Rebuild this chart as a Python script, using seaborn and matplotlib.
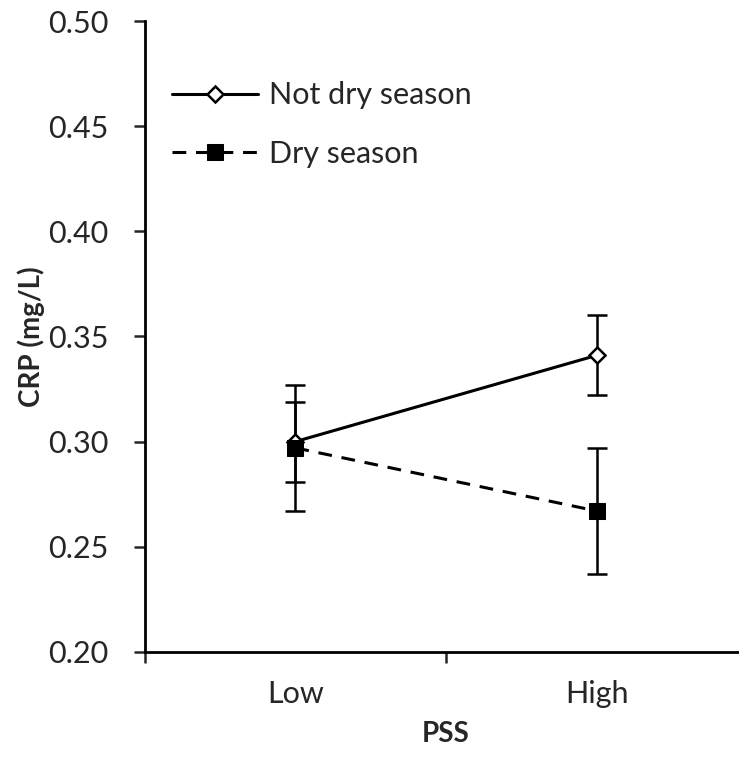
import numpy as np
import pandas as pd
import matplotlib
matplotlib.use("Agg")
import matplotlib.pyplot as plt
import seaborn as sns

# data
pss_levels = ["Low", "High"]
not_dry_mean = [0.300, 0.341]
not_dry_err = [0.019, 0.019]
dry_mean = [0.297, 0.267]
dry_err = [0.030, 0.030]
y_ticks = [0.20, 0.25, 0.30, 0.35, 0.40, 0.45, 0.50]

sns.set_style("ticks")
plt.rcParams["font.family"] = ["Lato", "DejaVu Sans"]

df = pd.DataFrame({
    "PSS": pss_levels * 2,
    "crp": not_dry_mean + dry_mean,
    "err": not_dry_err + dry_err,
    "season": ["Not dry season"] * 2 + ["Dry season"] * 2,
})
# category centres sit between the tick marks, like an Excel line chart
df["pos"] = df["PSS"].map({p: i + 0.5 for i, p in enumerate(pss_levels)})

fig = plt.figure(figsize=(7.39, 7.57), dpi=100)
ax = fig.add_axes([0.196, 0.139, 0.815, 0.833])

# error bars first so markers sit on top
for season in ["Not dry season", "Dry season"]:
    sub = df[df["season"] == season]
    ax.errorbar(sub["pos"], sub["crp"], yerr=sub["err"], fmt="none",
                ecolor="black", elinewidth=1.8, capsize=7, capthick=1.8, zorder=2)

sns.lineplot(data=df, x="pos", y="crp", style="season", ax=ax,
             color="black", linewidth=2.2,
             markers={"Not dry season": "D", "Dry season": "s"},
             dashes={"Not dry season": "", "Dry season": (4.5, 3.2)},
             style_order=["Not dry season", "Dry season"], zorder=3)

# open diamond / filled square
for ln in ax.get_lines():
    if ln.get_marker() == "D":
        ln.set_markerfacecolor("white")
        ln.set_markeredgecolor("black")
        ln.set_markersize(8)
        ln.set_markeredgewidth(1.8)
    elif ln.get_marker() == "s":
        ln.set_markerfacecolor("black")
        ln.set_markeredgecolor("black")
        ln.set_markersize(11)

ax.set_xlim(0, len(pss_levels))
ax.set_ylim(0.20, 0.50)
ax.set_yticks(y_ticks)
ax.set_yticklabels([f"{t:.2f}" for t in y_ticks])
ax.set_xticks(np.arange(len(pss_levels) + 1))
ax.set_xticklabels([])
ax.set_xticks(df["pos"].unique(), minor=True)
ax.set_xticklabels(pss_levels, minor=True)
ax.tick_params(axis="x", which="minor", length=0, labelsize=22, pad=20)
ax.tick_params(axis="x", which="major", length=8, width=1.8, direction="out")
ax.tick_params(axis="y", length=8, width=1.8, labelsize=22, pad=18)

for side in ["top", "right"]:
    ax.spines[side].set_visible(False)
for side in ["left", "bottom"]:
    ax.spines[side].set_linewidth(2.0)
    ax.spines[side].set_color("black")

ax.set_xlabel("PSS", fontsize=20, fontweight="bold", labelpad=10)
ax.set_ylabel("CRP (mg/L)", fontsize=20, fontweight="bold", labelpad=2)

leg = ax.legend(loc="upper left", bbox_to_anchor=(0.0, 0.948), frameon=False,
                fontsize=22, handlelength=2.8, handletextpad=0.35,
                labelspacing=1.0, title=None)
for h in leg.get_lines():
    if h.get_marker() == "D":
        h.set_markerfacecolor("white")
        h.set_markersize(8)
        h.set_markeredgewidth(1.8)
    elif h.get_marker() == "s":
        h.set_markersize(11)

fig.savefig("out.png", dpi=100)
